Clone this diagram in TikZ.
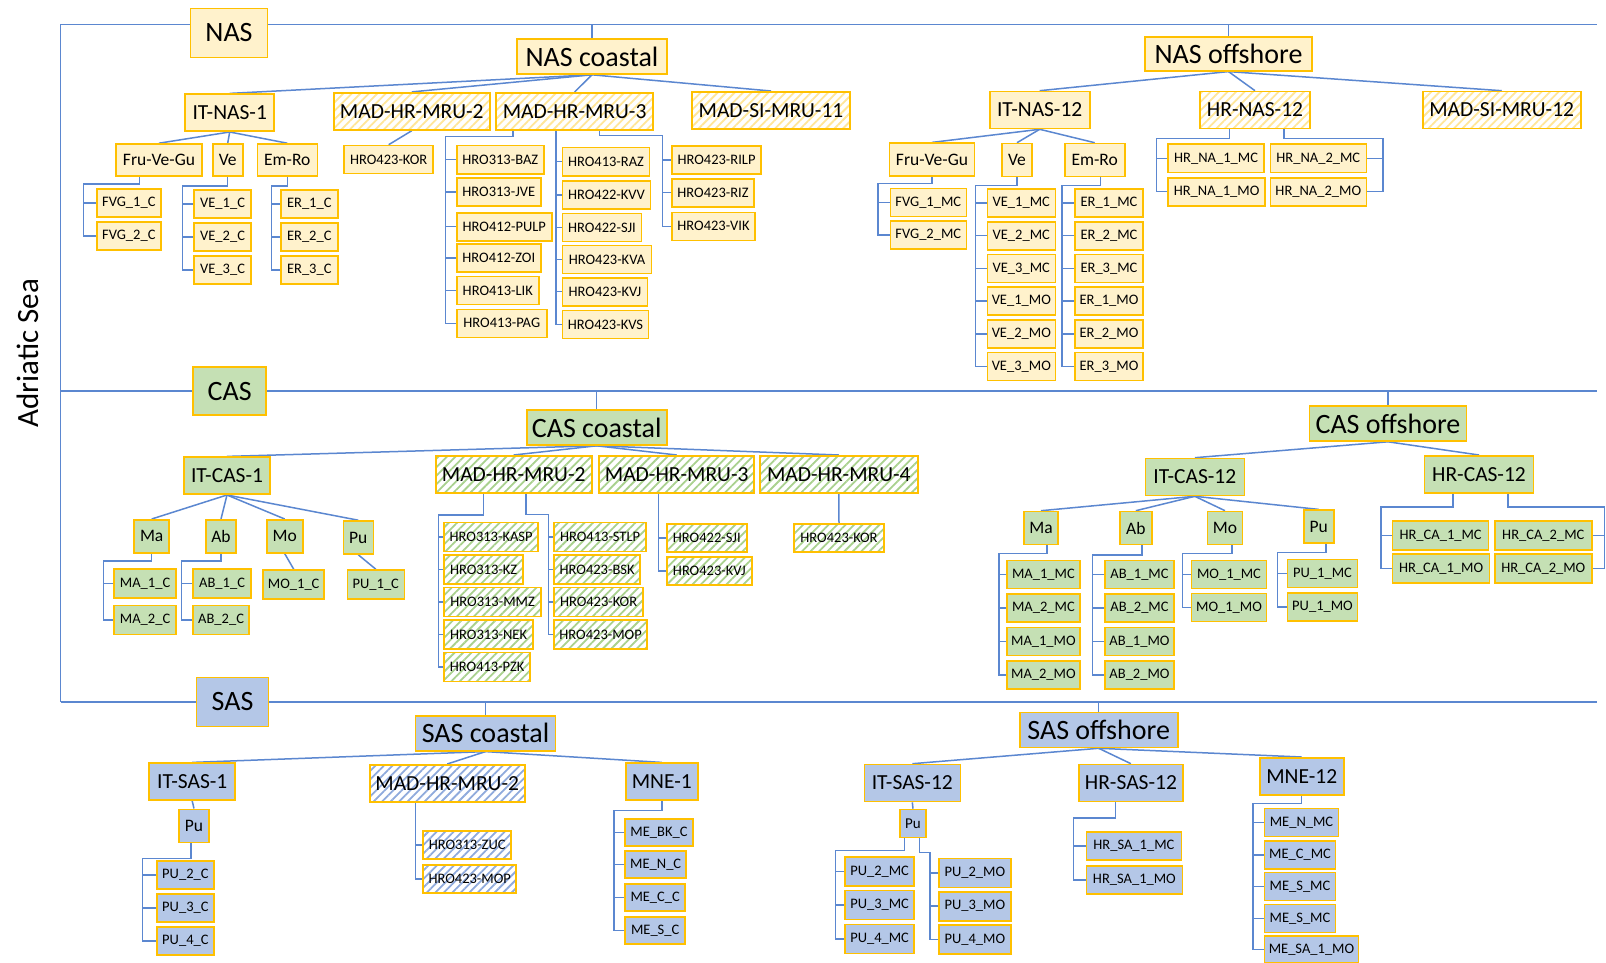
\documentclass[tikz,border=0pt]{standalone}
\usepackage{fontspec}
\setmainfont{Carlito}
\usetikzlibrary{patterns.meta,backgrounds}
\definecolor{gold}{HTML}{FFC000}
\definecolor{nasF}{HTML}{FFF2CC}
\definecolor{casF}{HTML}{C5E0B4}
\definecolor{sasF}{HTML}{B4C7E7}
\definecolor{nasH}{HTML}{FFE699}
\definecolor{casH}{HTML}{A9D18E}
\definecolor{sasH}{HTML}{8FAADC}
\definecolor{lnC}{HTML}{5B87D0}
\newcommand\busL[5]{\draw[conn] ([xshift=#2]#1.south) -- ++(0,#3) -| ([xshift=-#4]#5.west) -- (#5.west);}
\newcommand\busR[5]{\draw[conn] ([xshift=#2]#1.south) -- ++(0,#3) -| ([xshift=#4]#5.east) -- (#5.east);}
\newcommand\stL[2]{\foreach \nd in {#2}{\draw[conn] ([xshift=-#1]\nd.west) -- (\nd.west);}}
\newcommand\stR[2]{\foreach \nd in {#2}{\draw[conn] ([xshift=#1]\nd.east) -- (\nd.east);}}
\newcommand\fan[2]{\foreach \nd in {#2}{\draw[conn] (#1.south) -- (\nd.north);}}
\begin{document}
\begin{tikzpicture}[x=1pt,y=-1pt,
 bx/.style={draw=gold, line width=1.6pt, inner sep=0pt, text=black, align=center},
 fN/.style={fill=nasF}, fC/.style={fill=casF}, fS/.style={fill=sasF},
 hN/.style={preaction={fill=white}, pattern={Lines[angle=45,distance=6pt,line width=1.8pt]}, pattern color=nasH},
 hC/.style={preaction={fill=white}, pattern={Lines[angle=45,distance=6pt,line width=1.8pt]}, pattern color=casH},
 hS/.style={preaction={fill=white}, pattern={Lines[angle=45,distance=6pt,line width=1.8pt]}, pattern color=sasH},
 t0/.style={font=\fontsize{28}{30}\selectfont},
 t2/.style={font=\fontsize{21.5}{24}\selectfont},
 t3/.style={font=\fontsize{17.5}{20}\selectfont},
 t4/.style={font=\fontsize{14.5}{16}\selectfont},
 mw/.style={minimum width=#1}, mh/.style={minimum height=#1},
 lf/.style={bx, t4, anchor=west, minimum height=28},
 conn/.style={draw=lnC, line width=1.5pt},
]
\useasboundingbox (0,0) rectangle (1606,963);

% ---------- top level ----------
\coordinate (nasL) at (60.5,24.5); \coordinate (nasR) at (1597,24.5);
\coordinate (casL) at (60.5,391);  \coordinate (casR) at (1597,391);
\coordinate (sasL) at (60.5,702);  \coordinate (sasR) at (1597,702);
\node[rotate=90, font=\fontsize{31}{33}\selectfont] (adr) at (27.6,353) {Adriatic Sea};
\node[bx,fN,t0,mw=77,mh=49] (NAS) at (229,33) {NAS};
\node[bx,fC,t0,mw=73,mh=48] (CAS) at (229.7,391.2) {CAS};
\node[bx,fS,t0,mw=72,mh=49] (SAS) at (232.5,702) {SAS};

\node[bx,fN,t0,mw=150,mh=35] (NASc) at (592,56.5) {NAS coastal};
\node[bx,fN,t0,mw=167,mh=34] (NASo) at (1228.5,53.8) {NAS offshore};
\node[bx,fC,t0,mw=140,mh=35] (CASc) at (596.7,427.5) {CAS coastal};
\node[bx,fC,t0,mw=157,mh=35] (CASo) at (1388,423.5) {CAS offshore};
\node[bx,fS,t0,mw=140,mh=35] (SASc) at (485.5,733.3) {SAS coastal};
\node[bx,fS,t0,mw=158,mh=35] (SASo) at (1098.7,730) {SAS offshore};

% ---------- NAS coastal ----------
\node[bx,fN,t2,mw=89,mh=37] (itnas1) at (229.7,112.7) {IT-NAS-1};
\node[bx,hN,t2,mw=156,mh=37] (nm2) at (411.8,111.3) {MAD-HR-MRU-2};
\node[bx,hN,t2,mw=157,mh=37] (nm3) at (574.6,111.3) {MAD-HR-MRU-3};
\node[bx,hN,t2,mw=158,mh=37] (nm11) at (771,110.3) {MAD-SI-MRU-11};
\node[bx,fN,t3,mw=86,mh=32] (afvg) at (159,160) {Fru-Ve-Gu};
\node[bx,fN,t3,mw=30,mh=32] (ave) at (227.7,160) {Ve};
\node[bx,fN,t3,mw=60,mh=32] (aer) at (287.3,160) {Em-Ro};
\node[lf,fN,mw=64] (fvgA) at (96,203) {FVG\_1\_C};
\node[lf,fN,mw=64] (fvgB) at (96,236) {FVG\_2\_C};
\node[lf,fN,mw=57] (veA) at (193.3,204) {VE\_1\_C};
\node[lf,fN,mw=57] (veB) at (193.3,237) {VE\_2\_C};
\node[lf,fN,mw=57] (veC) at (193.3,270) {VE\_3\_C};
\node[lf,fN,mw=57] (erA) at (280,204) {ER\_1\_C};
\node[lf,fN,mw=57] (erB) at (280,237) {ER\_2\_C};
\node[lf,fN,mw=57] (erC) at (280,270) {ER\_3\_C};
\node[lf,fN,anchor=center,mw=89] (korN) at (388.7,159.5) {HRO423-KOR};
\node[lf,fN,mw=87] (baz) at (456,159.7) {HRO313-BAZ};
\node[lf,fN,mw=84] (jve) at (456,192.2) {HRO313-JVE};
\node[lf,fN,mw=95] (pulp) at (456,226.7) {HRO412-PULP};
\node[lf,fN,mw=84] (zoi) at (456,258) {HRO412-ZOI};
\node[lf,fN,mw=82] (lik) at (456,290.5) {HRO413-LIK};
\node[lf,fN,mw=90] (pag) at (456,323.3) {HRO413-PAG};
\node[lf,fN,mw=87] (raz) at (561.7,161.7) {HRO413-RAZ};
\node[lf,fN,mw=88] (kvv) at (561.7,195) {HRO422-KVV};
\node[lf,fN,mw=79] (sjiN) at (561.7,227.5) {HRO422-SJI};
\node[lf,fN,mw=89] (kva) at (561.7,259.5) {HRO423-KVA};
\node[lf,fN,mw=85] (kvjN) at (561.7,291.7) {HRO423-KVJ};
\node[lf,fN,mw=86] (kvs) at (561.7,324.5) {HRO423-KVS};
\node[lf,fN,mw=89] (rilp) at (671.2,160) {HRO423-RILP};
\node[lf,fN,mw=82] (riz) at (671.2,192.7) {HRO423-RIZ};
\node[lf,fN,mw=83] (vik) at (671.2,226.3) {HRO423-VIK};

% ---------- NAS offshore ----------
\node[bx,fN,t2,mw=100,mh=37] (itnas12) at (1039.7,110) {IT-NAS-12};
\node[bx,hN,t2,mw=110,mh=37] (hrnas12) at (1255,110) {HR-NAS-12};
\node[bx,hN,t2,mw=158,mh=37] (msi12) at (1501.7,110) {MAD-SI-MRU-12};
\node[bx,fN,t3,mw=85,mh=33] (bfvg) at (932,159.7) {Fru-Ve-Gu};
\node[bx,fN,t3,mw=30,mh=33] (bve) at (1017,160) {Ve};
\node[bx,fN,t3,mw=60,mh=33] (ber) at (1094.7,160) {Em-Ro};
\node[lf,fN,mw=76] (fvgmA) at (889.5,202.5) {FVG\_1\_MC};
\node[lf,fN,mw=76] (fvgmB) at (889.5,235) {FVG\_2\_MC};
\node[lf,fN,mw=68] (vemA) at (986.5,203) {VE\_1\_MC};
\node[lf,fN,mw=68] (vemB) at (986.5,235.7) {VE\_2\_MC};
\node[lf,fN,mw=68] (vemC) at (986.5,268.4) {VE\_3\_MC};
\node[lf,fN,mw=68] (vemD) at (986.5,301.1) {VE\_1\_MO};
\node[lf,fN,mw=68] (vemE) at (986.5,333.8) {VE\_2\_MO};
\node[lf,fN,mw=68] (vemF) at (986.5,366.5) {VE\_3\_MO};
\node[lf,fN,mw=68] (ermA) at (1074.2,203) {ER\_1\_MC};
\node[lf,fN,mw=68] (ermB) at (1074.2,235.7) {ER\_2\_MC};
\node[lf,fN,mw=68] (ermC) at (1074.2,268.4) {ER\_3\_MC};
\node[lf,fN,mw=68] (ermD) at (1074.2,301.1) {ER\_1\_MO};
\node[lf,fN,mw=68] (ermE) at (1074.2,333.8) {ER\_2\_MO};
\node[lf,fN,mw=68] (ermF) at (1074.2,366.5) {ER\_3\_MO};
\node[lf,fN,mw=96] (hrnaA) at (1167.3,158.3) {HR\_NA\_1\_MC};
\node[lf,fN,mw=97] (hrnaB) at (1167.3,191.7) {HR\_NA\_1\_MO};
\node[lf,fN,mw=96] (hrnaC) at (1269.5,158.3) {HR\_NA\_2\_MC};
\node[lf,fN,mw=96] (hrnaD) at (1269.5,191.7) {HR\_NA\_2\_MO};

% ---------- CAS coastal ----------
\node[bx,fC,t2,mw=86,mh=37] (itcas1) at (227,475.7) {IT-CAS-1};
\node[bx,hC,t2,mw=156,mh=37] (cm2) at (513.7,474.3) {MAD-HR-MRU-2};
\node[bx,hC,t2,mw=155,mh=37] (cm3) at (676.7,474.3) {MAD-HR-MRU-3};
\node[bx,hC,t2,mw=158,mh=37] (cm4) at (838.8,474.3) {MAD-HR-MRU-4};
\node[bx,fC,t3,mw=35,mh=33] (cma) at (151.7,536.3) {Ma};
\node[bx,fC,t3,mw=30,mh=33] (cab) at (221,536.3) {Ab};
\node[bx,fC,t3,mw=36,mh=33] (cmo) at (284.7,536.3) {Mo};
\node[bx,fC,t3,mw=30,mh=33] (cpu) at (358.3,537.5) {Pu};
\node[lf,fC,mw=62,mh=29] (maA) at (113.3,583.3) {MA\_1\_C};
\node[lf,fC,mw=62,mh=29] (maB) at (113.3,620) {MA\_2\_C};
\node[lf,fC,mw=58,mh=29] (abA) at (192.3,583.3) {AB\_1\_C};
\node[lf,fC,mw=56,mh=29] (abB) at (192.3,620) {AB\_2\_C};
\node[lf,fC,anchor=center,mw=61,mh=29] (moA) at (293.7,584.5) {MO\_1\_C};
\node[lf,fC,anchor=center,mw=57,mh=29] (puA) at (375.8,584.5) {PU\_1\_C};
\node[lf,hC,mw=94,mh=29] (kasp) at (443.3,537) {HRO313-KASP};
\node[lf,hC,mw=79,mh=29] (kz) at (443.3,569.5) {HRO313-KZ};
\node[lf,hC,mw=97,mh=29] (mmz) at (443.3,602) {HRO313-MMZ};
\node[lf,hC,mw=89,mh=29] (nek) at (443.3,634.5) {HRO313-NEK};
\node[lf,hC,mw=86,mh=29] (pzk) at (443.3,667) {HRO413-PZK};
\node[lf,hC,mw=92,mh=29] (stlp) at (553.3,537) {HRO413-STLP};
\node[lf,hC,mw=86,mh=29] (bsk) at (553.3,569.5) {HRO423-BSK};
\node[lf,hC,mw=89,mh=29] (korC) at (553.3,602) {HRO423-KOR};
\node[lf,hC,mw=93,mh=29] (mopC) at (553.3,634.5) {HRO423-MOP};
\node[lf,hC,mw=80] (sjiC) at (666,538) {HRO422-SJI};
\node[lf,hC,mw=85] (kvjC) at (666,570.8) {HRO423-KVJ};
\node[lf,hC,anchor=center,mw=90] (korD) at (839,538) {HRO423-KOR};

% ---------- CAS offshore ----------
\node[bx,fC,t2,mw=99,mh=37] (itcas12) at (1194.8,477) {IT-CAS-12};
\node[bx,fC,t2,mw=109,mh=37] (hrcas12) at (1479,474.3) {HR-CAS-12};
\node[bx,fC,t3,mw=34,mh=33] (dma) at (1041,528) {Ma};
\node[bx,fC,t3,mw=32,mh=33] (dab) at (1135.8,528) {Ab};
\node[bx,fC,t3,mw=35,mh=33] (dmo) at (1225,528) {Mo};
\node[bx,fC,t3,mw=30,mh=33] (dpu) at (1318.8,526.7) {Pu};
\node[lf,fC,mw=73] (mamA) at (1006.1,574.5) {MA\_1\_MC};
\node[lf,fC,mw=73] (mamB) at (1006.1,608) {MA\_2\_MC};
\node[lf,fC,mw=73] (mamC) at (1006.1,641.5) {MA\_1\_MO};
\node[lf,fC,mw=73] (mamD) at (1006.1,675) {MA\_2\_MO};
\node[lf,fC,mw=69] (abmA) at (1104.2,574.5) {AB\_1\_MC};
\node[lf,fC,mw=69] (abmB) at (1104.2,608) {AB\_2\_MC};
\node[lf,fC,mw=69] (abmC) at (1104.2,641.5) {AB\_1\_MO};
\node[lf,fC,mw=69] (abmD) at (1104.2,675) {AB\_2\_MO};
\node[lf,fC,mw=75] (momA) at (1190.7,574.5) {MO\_1\_MC};
\node[lf,fC,mw=75] (momB) at (1190.7,607.5) {MO\_1\_MO};
\node[lf,fC,mw=70] (pumA) at (1286.7,573.3) {PU\_1\_MC};
\node[lf,fC,mw=70] (pumB) at (1286.7,607) {PU\_1\_MO};
\node[lf,fC,mw=96,mh=29] (hrcaA) at (1391.8,535.5) {HR\_CA\_1\_MC};
\node[lf,fC,mw=97,mh=29] (hrcaB) at (1391.8,568.7) {HR\_CA\_1\_MO};
\node[lf,fC,mw=97,mh=29] (hrcaC) at (1494,535.5) {HR\_CA\_2\_MC};
\node[lf,fC,mw=97,mh=29] (hrcaD) at (1494,568.7) {HR\_CA\_2\_MO};

% ---------- SAS coastal ----------
\node[bx,fS,t2,mw=86,mh=37] (itsas1) at (192.2,781.7) {IT-SAS-1};
\node[bx,hS,t2,mw=155,mh=37] (sm2) at (447.2,783.3) {MAD-HR-MRU-2};
\node[bx,fS,t2,mw=72,mh=37] (mne1) at (661.8,781.7) {MNE-1};
\node[bx,fS,t3,mw=30,mh=33] (spu) at (194,825.8) {Pu};
\node[lf,fS,mw=57] (puC2) at (156.1,874.8) {PU\_2\_C};
\node[lf,fS,mw=57] (puC3) at (156.1,908) {PU\_3\_C};
\node[lf,fS,mw=57] (puC4) at (156.1,940.8) {PU\_4\_C};
\node[lf,hS,mw=88] (zuc) at (422.4,845.2) {HRO313-ZUC};
\node[lf,hS,mw=93] (mopS) at (422.4,878.8) {HRO423-MOP};
\node[lf,fS,mw=67.5,mh=27] (mebk) at (624.4,832.5) {ME\_BK\_C};
\node[lf,fS,mw=61,mh=27] (men) at (624.4,864.5) {ME\_N\_C};
\node[lf,fS,mw=60,mh=27] (mec) at (624.4,897.5) {ME\_C\_C};
\node[lf,fS,mw=60,mh=27] (mes) at (624.4,930.5) {ME\_S\_C};

% ---------- SAS offshore ----------
\node[bx,fS,t2,mw=96,mh=37] (itsas12) at (912.3,783) {IT-SAS-12};
\node[bx,fS,t2,mw=104,mh=37] (hrsas12) at (1130.9,783) {HR-SAS-12};
\node[bx,fS,t2,mw=84,mh=37] (mne12) at (1301.7,776.3) {MNE-12};
\node[bx,fS,font=\fontsize{15}{17}\selectfont,mw=26,mh=28] (tpu) at (913,823.5) {Pu};
\node[lf,fS,mw=69,mh=29] (pumc2) at (844.3,871.3) {PU\_2\_MC};
\node[lf,fS,mw=69,mh=29] (pumc3) at (844.3,905) {PU\_3\_MC};
\node[lf,fS,mw=69,mh=29] (pumc4) at (844.3,938.8) {PU\_4\_MC};
\node[lf,fS,mw=72,mh=29] (pumo2) at (938,872.8) {PU\_2\_MO};
\node[lf,fS,mw=72,mh=29] (pumo3) at (938,906.2) {PU\_3\_MO};
\node[lf,fS,mw=72,mh=29] (pumo4) at (938,939.5) {PU\_4\_MO};
\node[lf,fS,mw=95] (hrsaA) at (1085.6,846.2) {HR\_SA\_1\_MC};
\node[lf,fS,mw=96] (hrsaB) at (1085.6,879.8) {HR\_SA\_1\_MO};
\node[lf,fS,mw=74] (menm) at (1263.7,822.5) {ME\_N\_MC};
\node[lf,fS,mw=71] (mecm) at (1263.7,855) {ME\_C\_MC};
\node[lf,fS,mw=71] (mesm) at (1263.7,886.5) {ME\_S\_MC};
\node[lf,fS,mw=71] (mesmB) at (1263.7,918.3) {ME\_S\_MC};
\node[lf,fS,mw=94,mh=27] (mesa) at (1263.7,949.5) {ME\_SA\_1\_MO};

\begin{pgfonlayer}{background}
\fill[white] (0,0) rectangle (1606,963);
% frame lines
\draw[conn] (nasL) -- (sasL);
\draw[conn] (nasL) -- (nasR);
\draw[conn] (casL) -- (casR);
\draw[conn] (sasL) -- (sasR);
\foreach \nd/\ln in {NASc/nasL,NASo/nasL,CASc/casL,CASo/casL,SASc/sasL,SASo/sasL}
  {\draw[conn] (\nd.north) -- (\nd.north |- \ln);}
% fans
\fan{NASc}{itnas1,nm2,nm3,nm11}
\fan{NASo}{itnas12,hrnas12,msi12}
\fan{itnas1}{afvg,ave,aer}
\fan{nm2}{korN}
\fan{itnas12}{bfvg,bve,ber}
\fan{CASc}{itcas1,cm2,cm3,cm4}
\fan{CASo}{itcas12,hrcas12}
\fan{itcas1}{cma,cab,cmo,cpu}
\fan{cmo}{moA}
\fan{cpu}{puA}
\fan{cm4}{korD}
\fan{itcas12}{dma,dab,dmo,dpu}
\fan{SASc}{itsas1,sm2,mne1}
\fan{SASo}{itsas12,hrsas12,mne12}
\fan{itsas1}{spu}
\fan{itsas12}{tpu}
% buses NAS
\busL{afvg}{-19.7}{7.3}{12.7}{fvgB} \stL{12.7}{fvgA,fvgB}
\busL{ave}{0}{9}{10.6}{veC} \stL{10.6}{veA,veB,veC}
\busL{aer}{0}{9}{8.3}{erC} \stL{8.3}{erA,erB,erC}
\busL{nm3}{-61.8}{5.7}{10.3}{pag} \stL{10.3}{baz,jve,pulp,zoi,lik,pag}
\busL{nm3}{-18.7}{0}{5.8}{kvs} \stL{5.8}{raz,kvv,sjiN,kva,kvjN,kvs}
\busL{nm3}{25}{5}{8.6}{vik} \stL{8.6}{rilp,riz,vik}
\busL{bfvg}{0}{6.7}{11.5}{fvgmB} \stL{11.5}{fvgmA,fvgmB}
\busL{bve}{0}{8}{11}{vemF} \stL{11}{vemA,vemB,vemC,vemD,vemE,vemF}
\busL{ber}{6}{8}{12}{ermF} \stL{12}{ermA,ermB,ermC,ermD,ermE,ermF}
\busL{hrnas12}{-25.5}{9.3}{11}{hrnaB} \stL{11}{hrnaA,hrnaB}
\busR{hrnas12}{29}{9.3}{16}{hrnaD} \stR{16}{hrnaC,hrnaD}
% buses CAS
\busL{cma}{0}{7.3}{10}{maB} \stL{10}{maA,maB}
\busL{cab}{0}{7.3}{10.6}{abB} \stL{10.6}{abA,abB}
\busL{cm2}{-30.4}{21.3}{5}{pzk} \stL{5}{kasp,kz,mmz,nek,pzk}
\busL{cm2}{12.3}{21}{5}{mopC} \stL{5}{stlp,bsk,korC,mopC}
\busL{cm3}{-18.4}{0}{7.7}{kvjC} \stL{7.7}{sjiC,kvjC}
\busL{dma}{6}{8.4}{7}{mamD} \stL{7}{mamA,mamB,mamC,mamD}
\busL{dab}{6}{9.5}{11.5}{abmD} \stL{11.5}{abmA,abmB,abmC,abmD}
\busL{dmo}{7}{8.4}{8}{momB} \stL{8}{momA,momB}
\busL{dpu}{7}{8.4}{9.4}{pumB} \stL{9.4}{pumA,pumB}
\busL{hrcas12}{-25.8}{13.3}{10.7}{hrcaB} \stL{10.7}{hrcaA,hrcaB}
\busR{hrcas12}{29}{13.3}{12}{hrcaD} \stR{12}{hrcaC,hrcaD}
% buses SAS
\busL{spu}{-3}{15.4}{13.8}{puC4} \stL{13.8}{puC2,puC3,puC4}
\busL{sm2}{-31.7}{0}{7}{mopS} \stL{7}{zuc,mopS}
\busL{mne1}{0}{9.3}{10.5}{mes} \stL{10.5}{mebk,men,mec,mes}
\busL{tpu}{-8.7}{12.3}{9}{pumc4} \stL{9}{pumc2,pumc3,pumc4}
\busL{tpu}{6.6}{14}{7.8}{pumo4} \stL{7.8}{pumo2,pumo3,pumo4}
\busL{hrsas12}{-15.3}{15.6}{12}{hrsaB} \stL{12}{hrsaA,hrsaB}
\busL{mne12}{0}{7.7}{10.6}{mesa} \stL{10.6}{menm,mecm,mesm,mesmB,mesa}
\end{pgfonlayer}
\end{tikzpicture}
\end{document}
